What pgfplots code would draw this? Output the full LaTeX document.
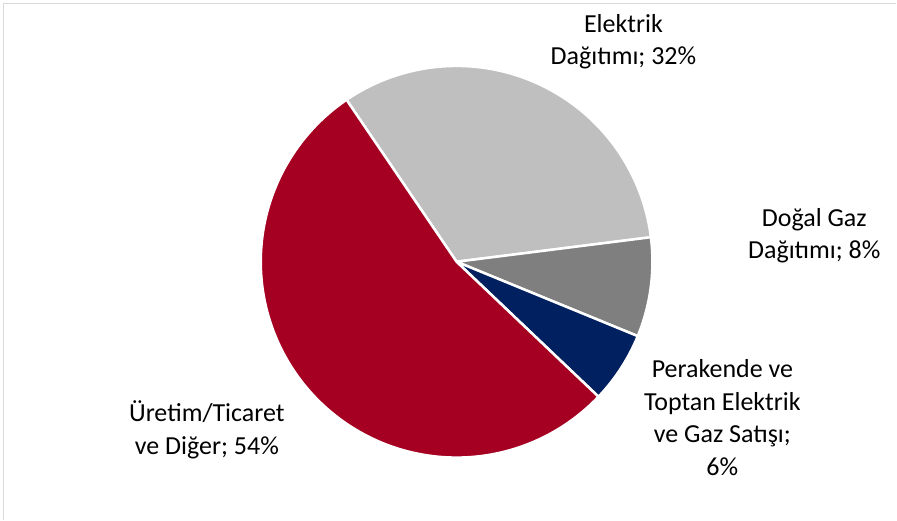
\documentclass[border=0pt]{standalone}
\usepackage{pgfplots}
\pgfplotsset{compat=1.18}
\usepackage{pgfplotstable}
\usepackage{fontspec}
\setmainfont{Carlito}
\definecolor{cRed}{HTML}{A50021}
\definecolor{cLight}{HTML}{BFBFBF}
\definecolor{cDark}{HTML}{7F7F7F}
\definecolor{cNavy}{HTML}{002060}
\definecolor{cFrame}{HTML}{D9D9D9}
% shares in percent, in clockwise order starting at 124.2 degrees
\pgfplotstableread{
idx value
0 32.5
1 8.2
2 5.9
3 53.4
}\piedata
\pgfplotstablegetelem{0}{value}\of\piedata \let\vA\pgfplotsretval
\pgfplotstablegetelem{1}{value}\of\piedata \let\vB\pgfplotsretval
\pgfplotstablegetelem{2}{value}\of\piedata \let\vC\pgfplotsretval
\pgfplotstablegetelem{3}{value}\of\piedata \let\vD\pgfplotsretval
\pgfmathsetmacro{\aA}{124.2}
\pgfmathsetmacro{\aB}{\aA-3.6*\vA}
\pgfmathsetmacro{\aC}{\aB-3.6*\vB}
\pgfmathsetmacro{\aD}{\aC-3.6*\vC}
\pgfmathsetmacro{\aE}{\aD-3.6*\vD}
\begin{document}
\begin{tikzpicture}
\begin{axis}[
  scale only axis, width=897pt, height=520pt,
  xmin=0, xmax=897, ymin=0, ymax=520,
  axis lines=none, clip=false,
]
\fill[white] (rel axis cs:0,0) rectangle (rel axis cs:1,1);
\draw[cFrame, line width=1.6pt] (axis cs:3.5,0) -- (axis cs:3.5,516.5) -- (axis cs:897,516.5);
\addplot[fill=cLight, draw=white, line width=2.5pt, line join=round, domain=\aB:\aA, samples=120]
  ({457+196*cos(x)},{258+196*sin(x)}) -- (axis cs:457,258) -- cycle;
\addplot[fill=cDark, draw=white, line width=2.5pt, line join=round, domain=\aC:\aB, samples=40]
  ({457+196*cos(x)},{258+196*sin(x)}) -- (axis cs:457,258) -- cycle;
\addplot[fill=cNavy, draw=white, line width=2.5pt, line join=round, domain=\aD:\aC, samples=40]
  ({457+196*cos(x)},{258+196*sin(x)}) -- (axis cs:457,258) -- cycle;
\addplot[fill=cRed, draw=white, line width=2.5pt, line join=round, domain=\aE:\aD, samples=180]
  ({457+196*cos(x)},{258+196*sin(x)}) -- (axis cs:457,258) -- cycle;
\node[align=center, font=\fontsize{26}{32.5}\selectfont] at (axis cs:624,478) {Elektrik\\Dağıtımı; 32\%};
\node[align=center, font=\fontsize{26}{32.5}\selectfont] at (axis cs:815,284) {Doğal Gaz\\Dağıtımı; 8\%};
\node[align=center, font=\fontsize{26}{32.5}\selectfont] at (axis cs:723,102) {Perakende ve\\Toptan Elektrik\\ve Gaz Satışı;\\6\%};
\node[align=center, font=\fontsize{26}{32.5}\selectfont] at (axis cs:207,90) {Üretim/Ticaret\\ve Diğer; 54\%};
\end{axis}
\end{tikzpicture}
\end{document}
